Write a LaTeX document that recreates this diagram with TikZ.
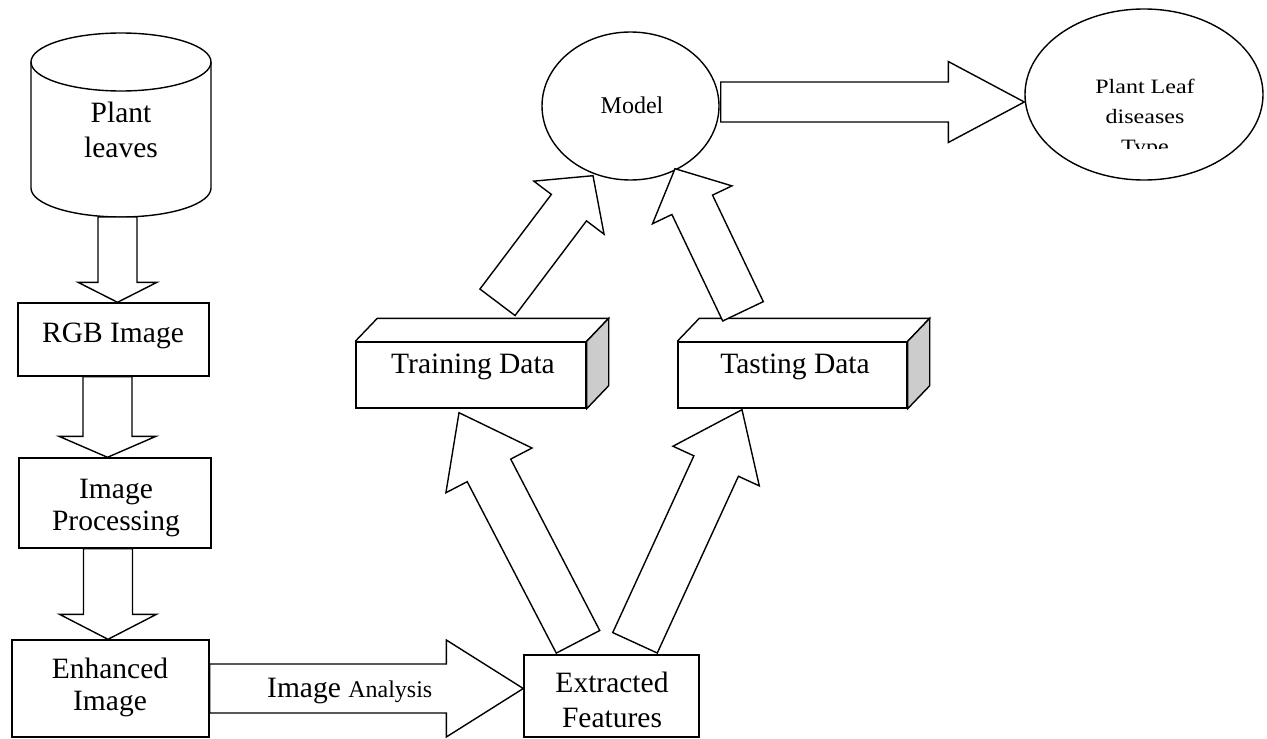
\documentclass[tikz,border=0pt]{standalone}
\usepackage{fontspec}
\setmainfont{Liberation Serif}
\usetikzlibrary{calc,shapes.geometric}

\definecolor{sidegray}{RGB}{204,204,204}

\tikzset{
  blk/.style={draw, fill=white, line width=1.4pt, line join=miter},
  box/.style={draw, rectangle, line width=1.4pt, inner sep=0pt},
  oval/.style={draw, ellipse, line width=1.4pt, inner sep=0pt},
  edge3d/.style={draw, line width=1.4pt, line join=miter},
  lbl/.style={anchor=base, inner sep=0pt, font=\fontsize{29.5}{34}\selectfont},
  smalllbl/.style={anchor=base, inner sep=0pt, font=\fontsize{24}{28}\selectfont},
}

% block arrow: from, to, half shaft width, half head width, head length
\newcommand\blockarrow[5]{%
  \coordinate (ba) at ($(#2)!#5!(#1)$);
  \draw[blk] ($(#1)!#3!90:(#2)$) -- ($(ba)!#3!90:(#2)$) -- ($(ba)!#4!90:(#2)$)
    -- (#2) -- ($(ba)!#4!-90:(#2)$) -- ($(ba)!#3!-90:(#2)$) -- ($(#1)!#3!-90:(#2)$) -- cycle;
}

% top and shaded side faces of a box drawn in perspective
\newcommand\slabfaces[1]{%
  \draw[edge3d] (#1.north west) -- ++(22,-23) -- ($(#1.north east)+(22,-23)$) -- (#1.north east);
  \draw[edge3d, fill=sidegray] (#1.north east) -- ++(22,-23) -- ($(#1.south east)+(22,-23)$)
    -- (#1.south east) -- cycle;
}

\begin{document}
\begin{tikzpicture}[x=1pt,y=-1pt]
\useasboundingbox (0,0) rectangle (1267,739);

% database cylinder
\draw[line width=1.4pt] (31,62) -- (31,188) .. controls (31,204) and (71.3,217) .. (121,217)
  .. controls (170.7,217) and (211,204) .. (211,188) -- (211,62);
\draw[line width=1.4pt] (121,62) ellipse [x radius=90pt, y radius=29pt];
\coordinate (cylbot) at (117.5,217);
\node[lbl] (cylA) at (121,122) {Plant};
\node[lbl] (cylB) at (121,157) {leaves};

% boxes
\node[box, minimum width=191pt, minimum height=73pt] (rgb) at (113.5,339.5) {};
\node[box, minimum width=192pt, minimum height=90pt] (proc) at (115,503) {};
\node[box, minimum width=197pt, minimum height=97pt] (enh) at (110.5,688.5) {};
\node[box, minimum width=175pt, minimum height=82pt] (ext) at (611.5,696) {};
\node[box, minimum width=230pt, minimum height=66pt] (train) at (471,375) {};
\node[box, minimum width=229pt, minimum height=66pt] (tast) at (792.5,375) {};
\slabfaces{train}
\slabfaces{tast}

% ellipses
\node[oval, minimum width=177pt, minimum height=148pt] (model) at (630.5,106) {};
\node[oval, minimum width=238pt, minimum height=171pt] (plant) at (1144,94.5) {};

% arrow end points
\coordinate (a1e) at (cylbot |- rgb.north);
\coordinate (a2s) at ($(rgb.south)+(-6,0)$);
\coordinate (a2e) at (a2s |- proc.north);
\coordinate (a3s) at ($(proc.south)+(-7,0)$);
\coordinate (a3e) at (a3s |- enh.north);
\coordinate (ias) at (enh.east);
\coordinate (iae) at (enh.east -| ext.west);
\coordinate (mps) at ($(model.east)+(1,-4)$);
\coordinate (mpe) at (mps -| plant.west);
\coordinate (etrs) at ($(ext.north)+(-33.5,-12.5)$);
\coordinate (etre) at ($(train.south)+(-12,4)$);
\coordinate (etas) at ($(ext.north)+(23.5,-11.5)$);
\coordinate (etae) at ($(tast.south)+(-50.5,1)$);
\coordinate (trms) at ($(train.north)+(26.5,-39)$);
\coordinate (trme) at ($(model.south)+(-37.5,-5)$);
\coordinate (tams) at ($(tast.north)+(-49.5,-30)$);
\coordinate (tame) at ($(model.south)+(44.5,-12)$);

% block arrows
\blockarrow{cylbot}{a1e}{19.5pt}{39.5pt}{20pt}
\blockarrow{a2s}{a2e}{24.5pt}{48.5pt}{21pt}
\blockarrow{a3s}{a3e}{24.5pt}{48.5pt}{25pt}
\blockarrow{ias}{iae}{24.5pt}{48.5pt}{77pt}
\blockarrow{mps}{mpe}{20pt}{40.5pt}{76pt}
\blockarrow{etrs}{etre}{24.5pt}{48.5pt}{65pt}
\blockarrow{etas}{etae}{24.5pt}{47.5pt}{62pt}
\blockarrow{trms}{trme}{22pt}{44pt}{40pt}
\blockarrow{tams}{tame}{22.5pt}{44pt}{40pt}

% labels
\node[lbl] (rgbT) at (113,342) {RGB Image};
\node[lbl] (procA) at (116,498) {Image};
\node[lbl] (procB) at (116,530) {Processing};
\node[lbl] (enhA) at (110,678) {Enhanced};
\node[lbl] (enhB) at (110,710) {Image};
\node[lbl] (extA) at (612,692) {Extracted};
\node[lbl] (extB) at (612,727) {Features};
\node[lbl] (trainT) at (473,373) {Training Data};
\node[lbl] (tastT) at (795,373) {Tasting Data};
\node[lbl, anchor=base west] (iaT) at (267,697) {Image {\fontsize{24}{28}\selectfont Analysis}};
\node[smalllbl] (modelT) at (632,113) {Model};
\node[smalllbl] (plA) at (1145,93) {\scalebox{1}[0.85]{Plant Leaf}};
\node[smalllbl] (plB) at (1145,123) {\scalebox{1}[0.85]{diseases}};
\begin{scope}
  \clip (1000,0) rectangle (1267,148);
  \node[smalllbl] (plC) at (1145,153) {\scalebox{1}[0.85]{Type}};
\end{scope}
\end{tikzpicture}
\end{document}
